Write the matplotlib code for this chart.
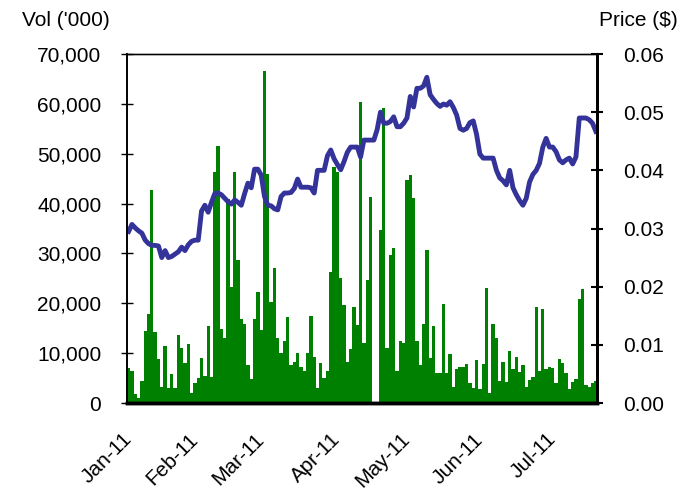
import numpy as np
import pandas as pd
import matplotlib
matplotlib.use('Agg')
import matplotlib.pyplot as plt
from matplotlib.ticker import FuncFormatter
from matplotlib.transforms import ScaledTranslation

plt.rcParams['font.family'] = ['Liberation Sans', 'DejaVu Sans']

# Daily volume ('000) and closing price ($), Jan-11 to Jul-11
volume = [7000, 6400, 1800, 1000, 4400, 14400, 17800, 42700, 14200, 8800,
          3200, 11400, 3000, 5800, 3000, 13600, 11000, 8000, 11800, 2000,
          4000, 5000, 9000, 5400, 15400, 5200, 46300, 51500, 14800, 13000,
          41000, 23300, 46300, 28600, 16800, 15800, 7600, 4800, 16800, 22200,
          14600, 66500, 45900, 20200, 27000, 13000, 10000, 12400, 17200, 7600,
          8200, 10000, 7200, 6400, 10000, 17400, 9200, 3000, 8000, 5000,
          6400, 26300, 47300, 46300, 25000, 19600, 8200, 10800, 19200, 15600,
          60300, 12000, 24600, 41300, 0, 0, 34700, 59100, 11000, 29700,
          31000, 6400, 12400, 12000, 44700, 45700, 41100, 12400, 7600, 15800,
          30700, 9000, 15400, 6000, 6000, 19800, 6000, 9800, 3200, 6800,
          7200, 7200, 7800, 4000, 3000, 8600, 2800, 7800, 23000, 2000,
          15800, 13000, 4400, 8200, 4200, 10400, 6800, 9200, 6200, 7600,
          3200, 4600, 5200, 19200, 6400, 18800, 6800, 7200, 7000, 4000,
          8800, 8000, 6000, 2800, 4200, 4800, 20800, 22800, 3600, 3200,
          4000, 4400]

price = [0.0295, 0.0307, 0.0301, 0.0296, 0.0292, 0.0280, 0.0274, 0.0271, 0.0271, 0.0270,
         0.0250, 0.0262, 0.0250, 0.0252, 0.0256, 0.0260, 0.0268, 0.0262, 0.0272, 0.0278,
         0.0280, 0.0280, 0.0330, 0.0340, 0.0328, 0.0345, 0.0360, 0.0361, 0.0358, 0.0352,
         0.0346, 0.0342, 0.0349, 0.0345, 0.0340, 0.0360, 0.0378, 0.0370, 0.0402, 0.0402,
         0.0392, 0.0355, 0.0340, 0.0339, 0.0334, 0.0332, 0.0355, 0.0361, 0.0361, 0.0362,
         0.0369, 0.0385, 0.0371, 0.0371, 0.0371, 0.0370, 0.0361, 0.0400, 0.0400, 0.0400,
         0.0425, 0.0435, 0.0420, 0.0410, 0.0401, 0.0415, 0.0431, 0.0440, 0.0440, 0.0440,
         0.0423, 0.0452, 0.0452, 0.0452, 0.0452, 0.0470, 0.0500, 0.0481, 0.0481, 0.0484,
         0.0492, 0.0475, 0.0475, 0.0481, 0.0490, 0.0527, 0.0509, 0.0541, 0.0541, 0.0545,
         0.0560, 0.0530, 0.0522, 0.0515, 0.0510, 0.0514, 0.0512, 0.0518, 0.0508, 0.0495,
         0.0472, 0.0469, 0.0472, 0.0482, 0.0485, 0.0462, 0.0428, 0.0421, 0.0421, 0.0421,
         0.0421, 0.0400, 0.0387, 0.0382, 0.0375, 0.0400, 0.0370, 0.0358, 0.0348, 0.0340,
         0.0352, 0.0380, 0.0393, 0.0400, 0.0412, 0.0440, 0.0455, 0.0440, 0.0440, 0.0432,
         0.0418, 0.0413, 0.0418, 0.0421, 0.0411, 0.0423, 0.0490, 0.0490, 0.0490, 0.0487,
         0.0481, 0.0467]

dates = pd.bdate_range('2011-01-04', periods=len(volume))
x = np.arange(len(volume))

# first trading day of each month gets a label
month_start = [i for i in range(len(dates)) if i == 0 or dates[i].month != dates[i - 1].month]
month_labels = [dates[i].strftime('%b-%y') for i in month_start]

fig = plt.figure(figsize=(6.95, 4.91), dpi=100)
ax = fig.add_axes([0.1827, 0.1792, 0.6770, 0.7108])
ax2 = ax.twinx()

ax.bar(x, volume, width=1.0, color='#008000', linewidth=0)
ax2.plot(x, price, color='#333399', linewidth=3.5, solid_joinstyle='round')

ax.set_xlim(-0.5, len(volume) - 0.5)
ax.set_ylim(0, 70000)
ax.set_yticks(np.arange(0, 70001, 10000))
ax.yaxis.set_major_formatter(FuncFormatter(lambda v, p: f'{int(v):,}'))
ax2.set_ylim(0, 0.06)
ax2.set_yticks(np.arange(0, 0.0601, 0.01))
ax2.yaxis.set_major_formatter(FuncFormatter(lambda v, p: f'{v:.2f}'))

ax.set_xticks(month_start)
ax.set_xticklabels(month_labels, rotation=45, ha='right', va='center',
                   rotation_mode='anchor', fontsize=15)
# nudge labels a little right, like Excel does
shift = ScaledTranslation(6 / 100, 0, fig.dpi_scale_trans)
for lbl in ax.get_xticklabels():
    lbl.set_transform(lbl.get_transform() + shift)
ax.tick_params(axis='x', length=0, pad=24)
ax.tick_params(axis='y', direction='inout', length=9, width=1, labelsize=15, pad=14)
ax2.tick_params(axis='y', direction='inout', length=9, width=1.5, labelsize=15, pad=14)

for a in (ax, ax2):
    a.spines['top'].set_linewidth(1.0)
    a.spines['left'].set_linewidth(1.2)
    a.spines['right'].set_linewidth(2.0)
    a.spines['bottom'].set_linewidth(2.5)
ax.spines['top'].set_color('#444444')

fig.text(0.095, 0.958, "Vol ('000)", fontsize=15, ha='center', va='center')
fig.text(0.918, 0.958, "Price ($)", fontsize=15, ha='center', va='center')

fig.savefig('out.png', dpi=100)
